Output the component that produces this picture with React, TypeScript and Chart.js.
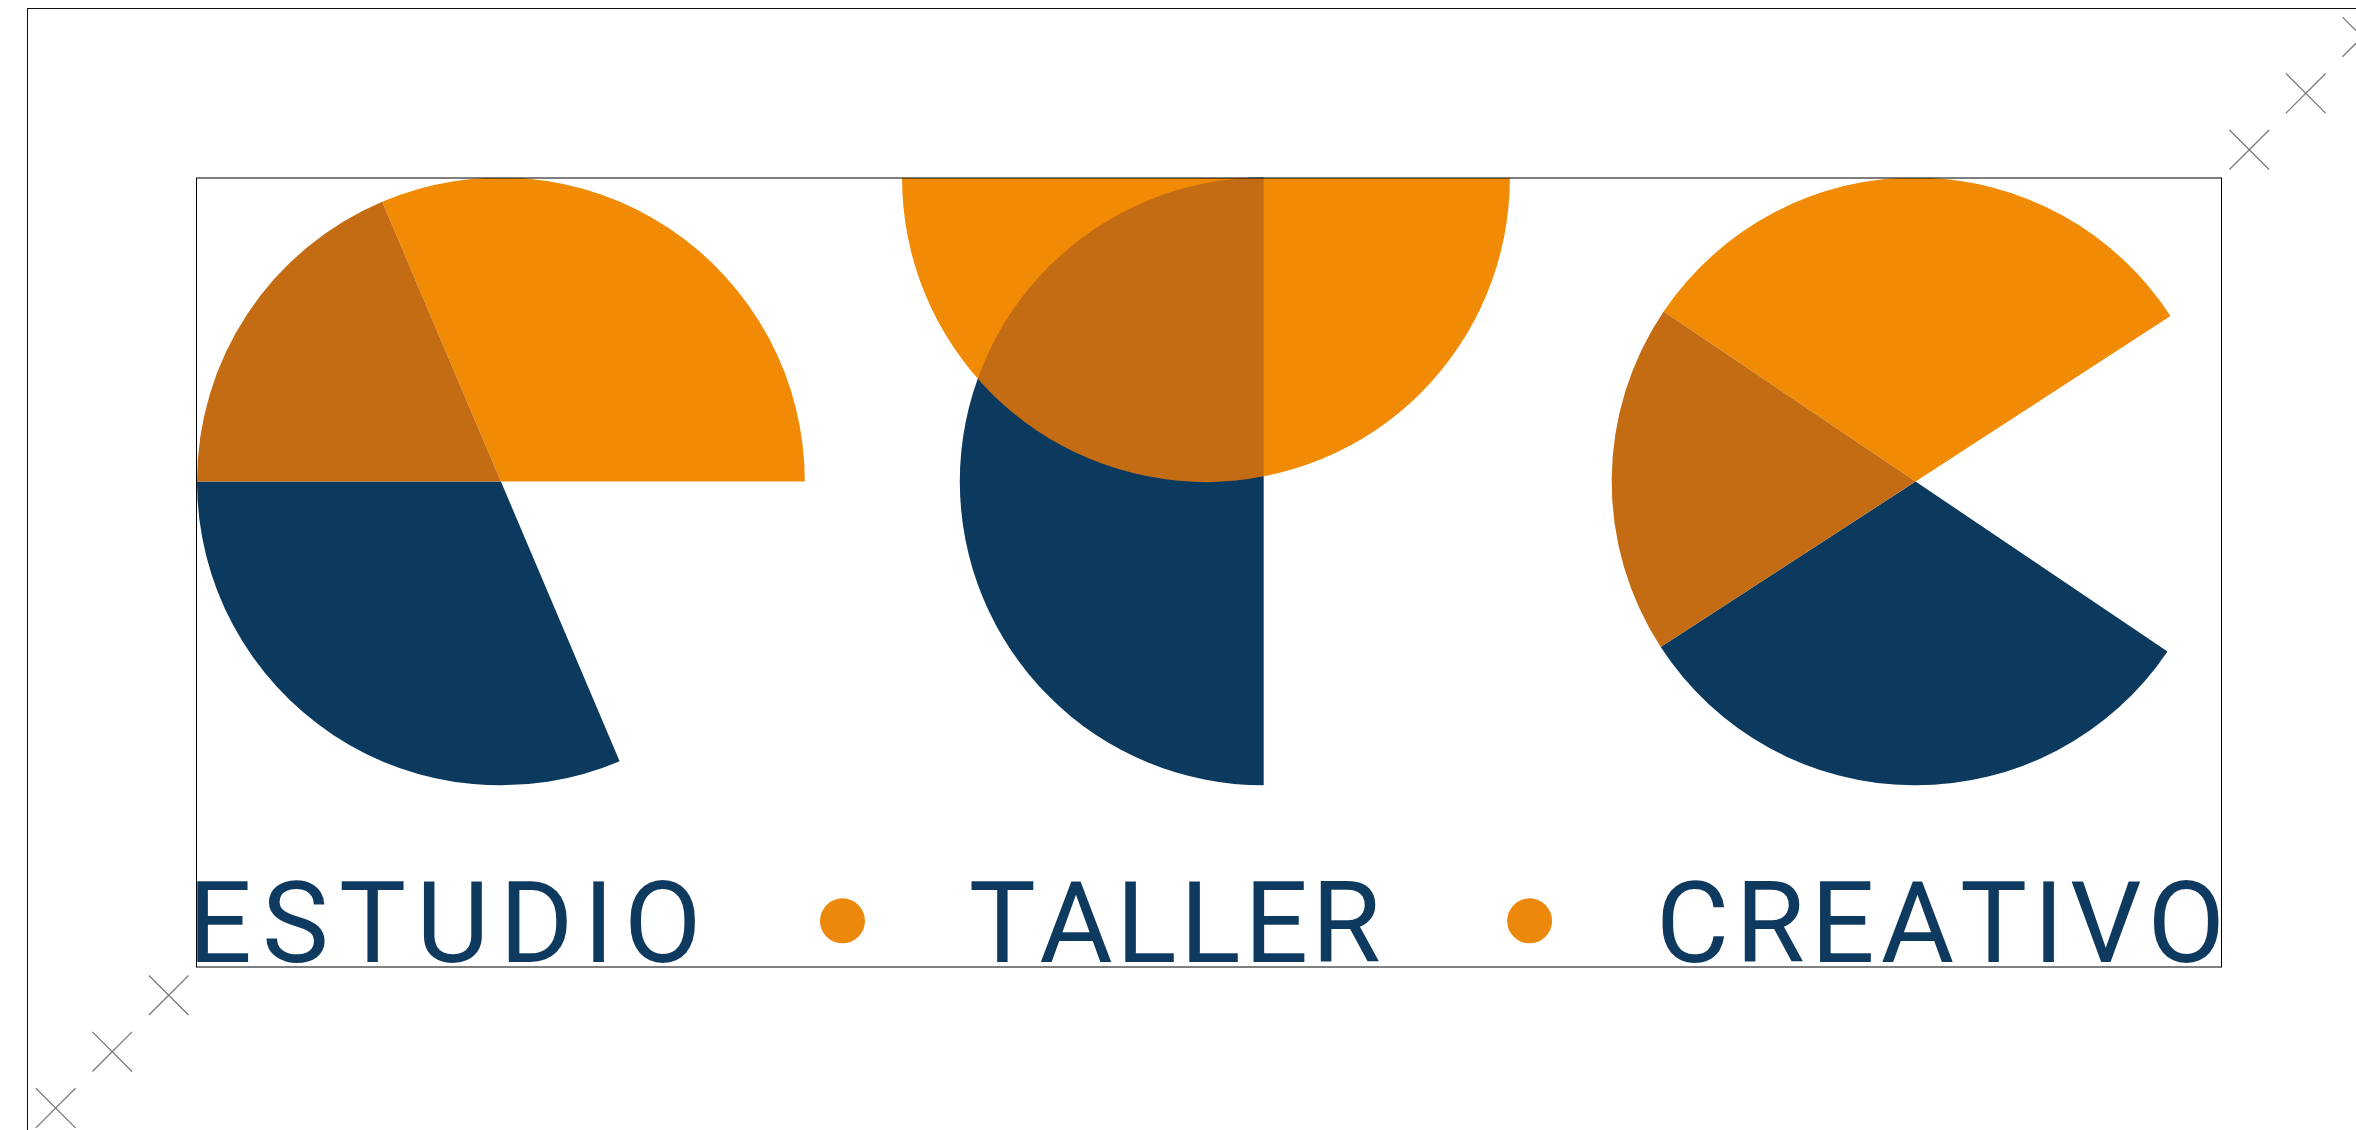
import { useEffect, useRef } from 'react';
import { Chart, registerables, PieController } from 'chart.js';

// ---------- data (in chart units: x 0..666, y 0..260, letter radius 100) ----------
const X_RANGE = [0, 666];
const Y_RANGE = [0, 260];

const LETTER_SECTORS = [113, 67, 113, 67];
const LETTER_RADIUS = 100;

const E_CENTER = [100, 160];
const E_ROTATION = -23;
const C_CENTER = [565.5, 160];
const C_ROTATION = -56;

const TOP_CENTER = [332, 260];
const TOP_SECTORS = [360];
const MID_CENTER = [351, 160];
const MID_OVERLAP = [90];
const MID_OVERLAP_ROTATION = -90;
const MID_OVERLAP_SPAN = 90;
const MID_BODY = [180];
const MID_BODY_ROTATION = 180;
const MID_BODY_SPAN = 180;

const WORDS = ['ESTUDIO', 'TALLER', 'CREATIVO'];
const WORD_FROM = [0, 254.6, 482.1];
const WORD_TO = [163.9, 389.1, 665.2];
const WORD_BASE = 1.75;

const DOT_X = [212.4, 438.5];
const DOT_Y = [15.2, 15.2];

const MARK_X = [675.3, 693.9, 712.5, -9.3, -27.9, -46.5];
const MARK_Y = [269.3, 287.9, 306.5, -9.3, -27.9, -46.5];

// ---------- styles ----------
const LIGHT = '#F18A05';
const DARK = '#C46C14';
const NAVY = '#0C3A5E';
const NONE = 'rgba(0,0,0,0)';
const DOT = '#EC890D';
const TEXT = '#0F3A5F';
const LETTER_COLORS = [LIGHT, NONE, NAVY, DARK];

class PlacedPieController extends (PieController as any) {
  static id = 'placedPie';
  update(mode: any) {
    super.update(mode);
    const ds: any = this.getDataset();
    const xs: any = this.chart.scales.x;
    const ys: any = this.chart.scales.y;
    const cx = xs.getPixelForValue(ds.center[0]);
    const cy = ys.getPixelForValue(ds.center[1]);
    const r = Math.abs(xs.getPixelForValue(ds.center[0] + ds.size) - cx);
    for (const arc of this._cachedMeta.data as any[]) {
      arc.x = cx;
      arc.y = cy;
      arc.outerRadius = r;
      arc.innerRadius = 0;
    }
  }
}

Chart.register(...registerables);
Chart.register(PlacedPieController as any);

let savedArea: any = null;
const layerPlugin = {
  id: 'layers',
  beforeDatasetDraw(chart: any, args: any) {
    const ds = chart.data.datasets[args.index];
    chart.ctx.save();
    if (ds.composite) chart.ctx.globalCompositeOperation = ds.composite;
    if (ds.freeArea) {
      savedArea = chart.chartArea;
      chart.chartArea = { left: 0, top: 0, right: chart.width, bottom: chart.height, width: chart.width, height: chart.height };
    }
  },
  afterDatasetDraw(chart: any, args: any) {
    const ds = chart.data.datasets[args.index];
    if (ds.freeArea && savedArea) {
      chart.chartArea = savedArea;
      savedArea = null;
    }
    chart.ctx.restore();
  },
};

const framePlugin = {
  id: 'frame',
  afterDatasetsDraw(chart: any) {
    const { ctx, chartArea: a } = chart;
    ctx.save();
    ctx.strokeStyle = '#000';
    ctx.lineWidth = 1;
    ctx.strokeRect(a.left - 0.5, a.top, a.right - a.left + 1, a.bottom - a.top);
    ctx.restore();
  },
};

const wordsPlugin = {
  id: 'words',
  afterDatasetsDraw(chart: any) {
    const { ctx } = chart;
    const xs = chart.scales.x;
    const ys = chart.scales.y;
    ctx.save();
    ctx.fillStyle = TEXT;
    ctx.font = '112.5px Roboto';
    ctx.textAlign = 'left';
    ctx.textBaseline = 'alphabetic';
    const base = ys.getPixelForValue(WORD_BASE);
    WORDS.forEach((w, i) => {
      const left = xs.getPixelForValue(WORD_FROM[i]);
      const right = xs.getPixelForValue(WORD_TO[i]);
      const chars = Array.from(w);
      const ms = chars.map((c) => ctx.measureText(c));
      const n = chars.length;
      let natural = ms[0].actualBoundingBoxLeft + ms[n - 1].actualBoundingBoxRight;
      for (let k = 0; k < n - 1; k++) natural += ms[k].width;
      const ls = (right - left - natural) / (n - 1);
      let xp = left + ms[0].actualBoundingBoxLeft;
      chars.forEach((c, k) => {
        ctx.fillText(c, xp, base);
        xp += ms[k].width + ls;
      });
    });
    ctx.restore();
  },
};

export default function App() {
  const ref = useRef<HTMLCanvasElement>(null);
  useEffect(() => {
    if (!ref.current) return;
    const dots = DOT_X.map((x, i) => ({ x, y: DOT_Y[i] }));
    const marks = MARK_X.map((x, i) => ({ x, y: MARK_Y[i] }));
    const chart = new Chart(ref.current, {
      type: 'scatter',
      data: {
        datasets: [
          { type: 'placedPie', data: LETTER_SECTORS, backgroundColor: LETTER_COLORS, center: E_CENTER, size: LETTER_RADIUS, rotation: E_ROTATION, borderWidth: 0, order: 5, clip: 0 },
          { type: 'placedPie', data: LETTER_SECTORS, backgroundColor: LETTER_COLORS, center: C_CENTER, size: LETTER_RADIUS, rotation: C_ROTATION, borderWidth: 0, order: 5, clip: 0 },
          { type: 'placedPie', data: TOP_SECTORS, backgroundColor: [LIGHT], center: TOP_CENTER, size: LETTER_RADIUS, borderWidth: 0, order: 4, clip: 0 },
          { type: 'placedPie', data: MID_OVERLAP, backgroundColor: [DARK], center: MID_CENTER, size: LETTER_RADIUS, rotation: MID_OVERLAP_ROTATION, circumference: MID_OVERLAP_SPAN, borderWidth: 0, order: 3, composite: 'source-atop' },
          { type: 'placedPie', data: MID_BODY, backgroundColor: [NAVY], center: MID_CENTER, size: LETTER_RADIUS, rotation: MID_BODY_ROTATION, circumference: MID_BODY_SPAN, borderWidth: 0, order: 2, composite: 'destination-over' },
          { type: 'scatter', data: dots, pointRadius: 22.5, pointStyle: 'circle', backgroundColor: DOT, borderWidth: 0, order: 1 },
          { type: 'scatter', data: marks, pointRadius: 28, pointStyle: 'crossRot', borderColor: '#7a7a7a', borderWidth: 1.3, clip: false, freeArea: true, order: 0 },
        ] as any,
      },
      options: {
        responsive: false,
        animation: false,
        events: [],
        layout: { padding: { left: 197, top: 178, right: 135, bottom: 163 } },
        scales: {
          x: { type: 'linear', min: X_RANGE[0], max: X_RANGE[1], display: false },
          y: { type: 'linear', min: Y_RANGE[0], max: Y_RANGE[1], display: false },
        },
        plugins: { legend: { display: false }, tooltip: { enabled: false } },
      } as any,
      plugins: [layerPlugin, framePlugin, wordsPlugin] as any,
    });
    return () => chart.destroy();
  }, []);
  return (
    <div style={{ position: 'fixed', left: 0, top: 0, width: 2356, height: 1130, overflow: 'hidden', background: '#fff' }}>
      <div style={{ position: 'absolute', left: 27, top: 8, width: 2600, height: 1400, borderTop: '1px solid #111', borderLeft: '1px solid #111' }} />
      <canvas ref={ref} width={2356} height={1130} style={{ position: 'absolute', left: 0, top: 0, width: 2356, height: 1130 }} />
    </div>
  );
}
